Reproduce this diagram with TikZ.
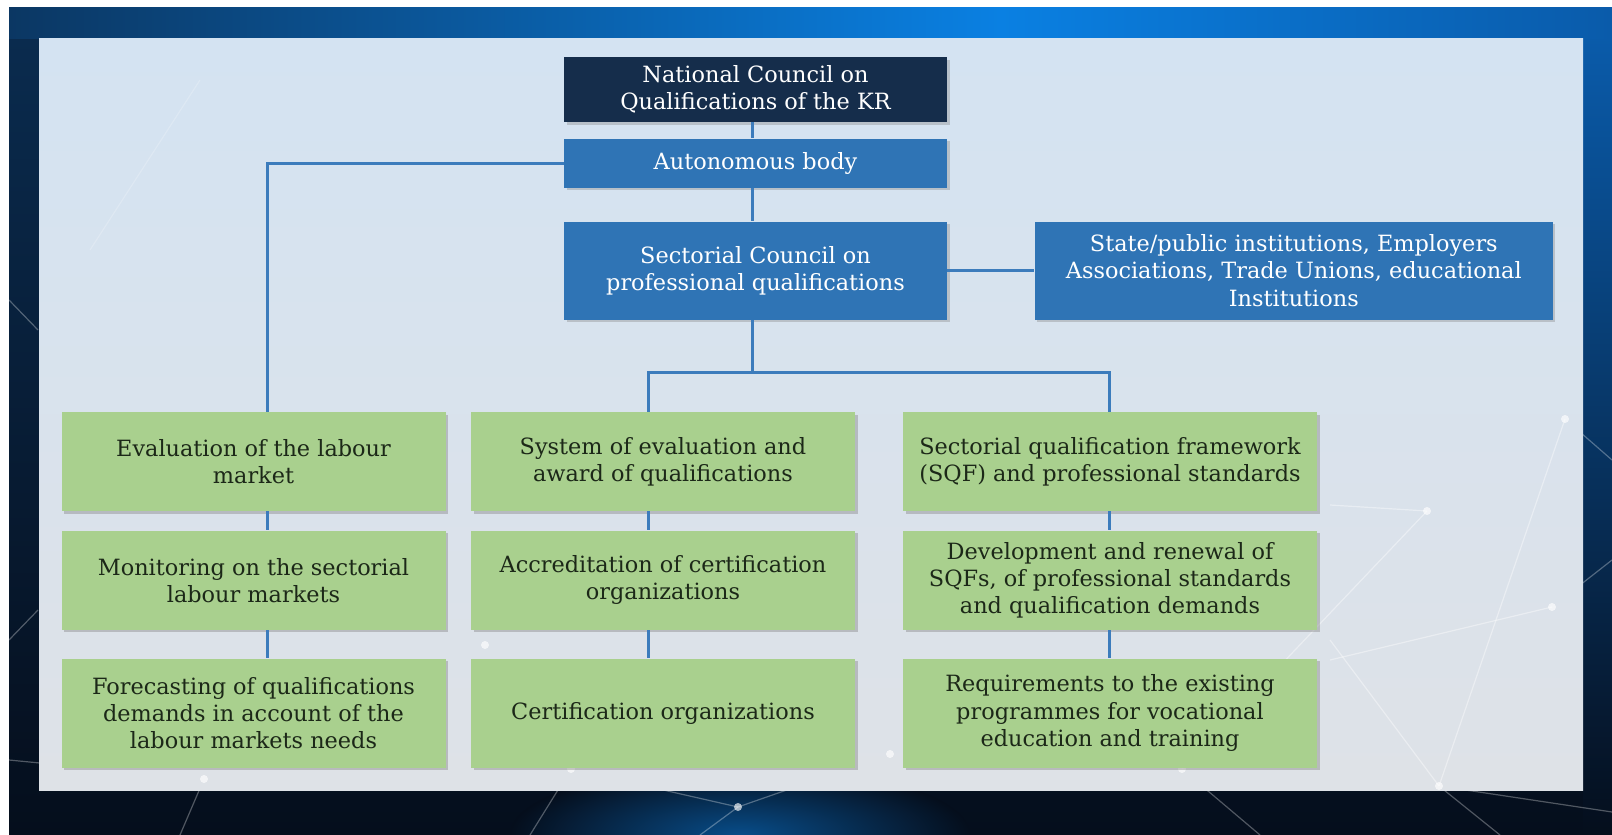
\documentclass[tikz,border=0pt]{standalone}
\usepackage{fontspec}
\setmainfont{DejaVu Serif}
\usetikzlibrary{positioning,shadows}

\definecolor{framenavy}{HTML}{0A2C50}
\definecolor{framedeep}{HTML}{050E1C}
\definecolor{stripleft}{HTML}{0B3763}
\definecolor{glowblue}{HTML}{0A80E2}
\definecolor{stripright}{HTML}{0A5BAA}
\definecolor{paneltop}{HTML}{D4E3F2}
\definecolor{panelbot}{HTML}{DEE2E7}
\definecolor{topnavy}{HTML}{152D4B}
\definecolor{boxblue}{HTML}{2F74B5}
\definecolor{leafgreen}{HTML}{A9D08E}
\definecolor{greentext}{HTML}{1C2818}
\definecolor{linkblue}{HTML}{3C7CBC}

\begin{document}
\begin{tikzpicture}[x=0.5pt,y=-0.5pt,
  boxfont/.style={font=\fontsize{11.2}{13.6}\selectfont,align=center}]
\tikzstyle{navybox}=[boxfont,fill=topnavy,text=white,minimum width=191.5pt,minimum height=32.5pt,inner sep=2pt,drop shadow={shadow xshift=1.3pt,shadow yshift=-1.3pt,opacity=0.35}]
\tikzstyle{bluebox}=[boxfont,fill=boxblue,text=white,minimum width=191.5pt,inner sep=2pt,drop shadow={shadow xshift=1.3pt,shadow yshift=-1.3pt,opacity=0.35}]
\tikzstyle{greenbox}=[boxfont,fill=leafgreen,text=greentext,minimum width=192pt,minimum height=49.5pt,inner sep=2pt,drop shadow={shadow xshift=1.3pt,shadow yshift=-1.3pt,opacity=0.4}]
\tikzstyle{link}=[draw=linkblue,line width=1.5pt]
\tikzstyle{net}=[draw=white,line width=0.6pt,opacity=0.3]
\tikzstyle{spark}=[fill=white,opacity=0.65]

\useasboundingbox (0,0) rectangle (1612,835);
\fill[white] (0,0) rectangle (1612,835);
\shade[top color=framenavy,bottom color=framedeep] (9,7) rectangle (1612,835);
\shade[top color=stripright,bottom color=framedeep] (1583,38) rectangle (1612,835);
\shade[left color=stripleft,right color=glowblue] (9,7) rectangle (1000,38);
\shade[left color=glowblue,right color=stripright] (1000,7) rectangle (1612,38);
\shade[inner color=glowblue!55!framedeep,outer color=framedeep] (740,835) ellipse (230 and 70);
\begin{scope}
  \clip (9,7) rectangle (1612,835);
  \draw[net] (738,807) -- (571,769) -- (204,779) -- (9,760);
  \draw[net] (738,807) -- (890,754) -- (1182,769) -- (1439,786) -- (1612,812);
  \draw[net] (738,807) -- (700,835);
  \draw[net] (571,769) -- (530,835);
  \draw[net] (1182,769) -- (1260,835);
  \draw[net] (1439,786) -- (1552,607) -- (1612,560);
  \draw[net] (1565,419) -- (1612,460);
  \draw[net] (1427,511) -- (1565,419);
  \draw[net] (1427,511) -- (1552,607);
  \draw[net] (9,640) -- (38,610);
  \draw[net] (9,300) -- (38,330);
  \draw[net] (1439,786) -- (1500,835);
  \draw[net] (204,779) -- (180,835);
\end{scope}

% panel
\shade[top color=paneltop,bottom color=panelbot] (39,38) rectangle (1583,790);
\begin{scope}
  \clip (39,38) rectangle (1583,790);
  \draw[net,opacity=0.4] (1427,511) -- (1182,769);
  \draw[net,opacity=0.4] (1427,511) -- (1330,505);
  \draw[net,opacity=0.4] (1552,607) -- (1330,660);
  \draw[net,opacity=0.4] (1565,419) -- (1439,786);
  \draw[net,opacity=0.4] (1330,640) -- (1439,786);
  \draw[net,opacity=0.2] (200,80) -- (90,250);
\end{scope}
\foreach \p in {(1427,511),(1565,419),(1552,607),(1439,786),(1182,769),(890,754),(738,807),(571,769),(204,779),(485,645)}
  \fill[spark] \p circle (4);

% top of the chart
\node [navybox] (nat) at (755.5,89.5) {National Council on\\Qualifications of the KR};
\node [bluebox,minimum height=24.5pt,below=8pt of nat] (aut) {Autonomous body};
\node [bluebox,minimum height=49pt,below=16.5pt of aut] (sec) {Sectorial Council on\\professional qualifications};
\node [bluebox,minimum width=259pt,minimum height=49pt,right=43.5pt of sec] (sta) {State/public institutions, Employers\\Associations, Trade Unions, educational\\Institutions};

% three columns
\node [greenbox] (ev) at (253.5,461.5) {Evaluation of the labour\\market};
\node [greenbox,below=9.5pt of ev] (mon) {Monitoring on the sectorial\\labour markets};
\node [greenbox,minimum height=54.5pt,below=14pt of mon] (fore) {Forecasting of qualifications\\demands in account of the\\labour markets needs};

\node [greenbox] (sys) at (663,461.5) {System of evaluation and\\award of qualifications};
\node [greenbox,below=9.5pt of sys] (acc) {Accreditation of certification\\organizations};
\node [greenbox,minimum height=54.5pt,below=14pt of acc] (cert) {Certification organizations};

\node [greenbox,minimum width=207pt] (sqf) at (1110,461.5) {Sectorial qualification framework\\(SQF) and professional standards};
\node [greenbox,minimum width=207pt,below=9.5pt of sqf] (dev) {Development and renewal of\\SQFs, of professional standards\\and qualification demands};
\node [greenbox,minimum width=207pt,minimum height=54.5pt,below=14pt of dev] (req) {Requirements to the existing\\programmes for vocational\\education and training};

\coordinate (spine1) at (267,0);
\coordinate (spine2) at (648,0);
\coordinate (spine3) at (1109,0);
\coordinate (bar) at (752,372);

\draw[link] (nat.south -| bar) -- (aut.north -| bar);
\draw[link] (aut.south -| bar) -- (sec.north -| bar);
\draw[link] (sec.east) -- (sta.west);
\draw[link] (aut.west) -| (ev.north -| spine1);
\draw[link] (sec.south -| bar) -- (bar);
\draw[link] (sys.north -| spine2) |- (bar) -| (sqf.north -| spine3);
\foreach \a/\b/\s in {ev/mon/spine1,mon/fore/spine1,sys/acc/spine2,acc/cert/spine2,sqf/dev/spine3,dev/req/spine3}
  \draw[link] (\a.south -| \s) -- (\b.north -| \s);
\end{tikzpicture}
\end{document}
